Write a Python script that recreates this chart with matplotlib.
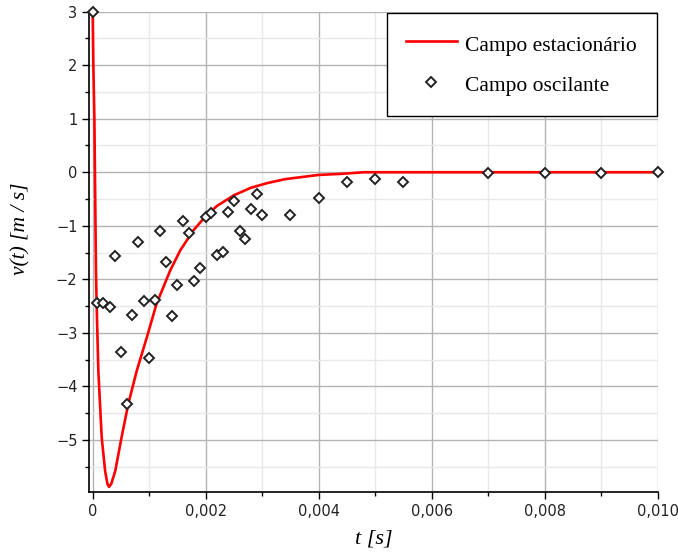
import numpy as np
import matplotlib
matplotlib.use("Agg")
import matplotlib.pyplot as plt
from matplotlib.ticker import FixedLocator, MultipleLocator

# red curve
t_stat = [0.0, 0.00001, 0.00003, 0.00004, 0.000058, 0.00007, 0.0001, 0.00016,
          0.00022, 0.00026, 0.00029, 0.00033, 0.0004, 0.00051, 0.00063, 0.00078,
          0.00096, 0.00113, 0.00137, 0.00155, 0.00178, 0.002, 0.0022, 0.0025,
          0.0028, 0.0031, 0.0034, 0.0037, 0.004, 0.0044, 0.0048, 0.010]
v_stat = [3.0, 2.1, 1.0, 0.0, -1.84, -2.46, -3.71, -4.96,
          -5.58, -5.82, -5.88, -5.82, -5.58, -4.96, -4.33, -3.71,
          -3.08, -2.46, -1.84, -1.46, -1.09, -0.82, -0.63, -0.43,
          -0.29, -0.20, -0.13, -0.09, -0.05, -0.03, 0.0, 0.0]

# diamonds
t_osc = [0.0, 0.00007, 0.00018, 0.0003, 0.0004, 0.0005, 0.0006, 0.0007, 0.0008,
         0.0009, 0.0010, 0.0011, 0.0012, 0.0013, 0.0014, 0.0015, 0.0016, 0.0017,
         0.0018, 0.0019, 0.0020, 0.0021, 0.0022, 0.0023, 0.0024, 0.0025, 0.0026,
         0.0027, 0.0028, 0.0029, 0.0030, 0.0035, 0.0040, 0.0045, 0.0050, 0.0055,
         0.007, 0.008, 0.009, 0.010]
v_osc = [3.0, -2.44, -2.45, -2.52, -1.57, -3.36, -4.34, -2.66, -1.31,
         -2.41, -3.48, -2.38, -1.09, -1.68, -2.69, -2.10, -0.92, -1.14,
         -2.04, -1.79, -0.84, -0.77, -1.54, -1.49, -0.74, -0.54, -1.10,
         -1.25, -0.69, -0.40, -0.79, -0.79, -0.48, -0.19, -0.13, -0.18,
         -0.02, -0.02, -0.02, 0.0]

x_ticks = [0.0, 0.002, 0.004, 0.006, 0.008, 0.010]
x_labels = ["0", "0,002", "0,004", "0,006", "0,008", "0,010"]
y_ticks = [-5, -4, -3, -2, -1, 0, 1, 2, 3]

serif = ["Liberation Serif", "DejaVu Serif"]

fig = plt.figure(figsize=(6.78, 5.52), dpi=100)
ax = fig.add_axes([0.1317, 0.1092, 0.8383, 0.8696])

ax.plot(t_stat, v_stat, color="#ff0000", lw=1.9, label="Campo estacionário", zorder=3)
ax.plot(t_osc, v_osc, ls="none", marker="D", ms=5, mfc="white", mec="#222222",
        mew=1.4, label="Campo oscilante", zorder=4, clip_on=False)

ax.set_xlim(-0.00006, 0.010)
ax.set_ylim(-5.97, 3.0)

ax.xaxis.set_major_locator(FixedLocator(x_ticks))
ax.set_xticklabels(x_labels)
ax.xaxis.set_minor_locator(MultipleLocator(0.001))
ax.yaxis.set_major_locator(FixedLocator(y_ticks))
ax.yaxis.set_minor_locator(MultipleLocator(0.5))

ax.grid(which="major", color="#b4b4b4", lw=1.0)
ax.grid(which="minor", color="#e8e8e8", lw=1.0)
ax.set_axisbelow(True)

for s in ["top", "right"]:
    ax.spines[s].set_visible(False)
for s in ["left", "bottom"]:
    ax.spines[s].set_color("black")
    ax.spines[s].set_linewidth(1.2)

ax.tick_params(which="major", length=5, width=1, color="black", labelsize=10.5,
               labelcolor="#222222")
ax.tick_params(which="minor", length=3, width=1, color="black")

ax.set_xlabel("t [s]", family=serif, style="italic", fontsize=16, va="center")
ax.xaxis.set_label_coords(0.501, -0.099)
ax.set_ylabel("v(t) [m / s]", family=serif, style="italic", fontsize=15.5, va="center")
ax.yaxis.set_label_coords(-0.12, 0.547)

leg = ax.legend(loc="upper right", bbox_to_anchor=(0.998, 0.998), frameon=True,
                fancybox=False, edgecolor="black", framealpha=1,
                prop={"family": serif, "size": 15.5}, handlelength=2.35,
                handleheight=1.27, borderpad=0.9, labelspacing=0.78,
                handletextpad=0.4, borderaxespad=0)
leg.get_frame().set_linewidth(1.0)

fig.savefig("out.png", dpi=100)
